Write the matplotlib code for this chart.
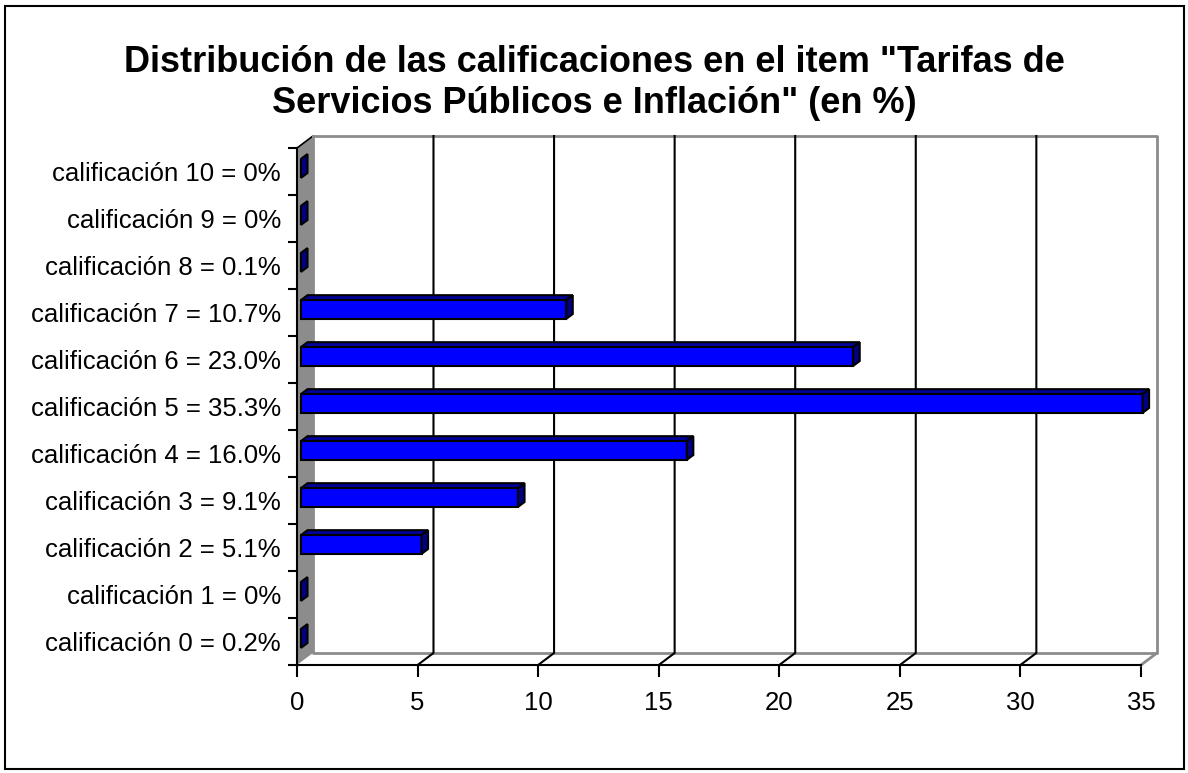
"""
Distribución de calificaciones - barras horizontales estilo 3D.
"""

import matplotlib

matplotlib.use("Agg")

import matplotlib.pyplot as plt
from matplotlib.patches import Polygon, Rectangle

# =====================================================
# Data
# =====================================================

categories = [
    "calificación 0 = 0.2%",
    "calificación 1 = 0%",
    "calificación 2 = 5.1%",
    "calificación 3 = 9.1%",
    "calificación 4 = 16.0%",
    "calificación 5 = 35.3%",
    "calificación 6 = 23.0%",
    "calificación 7 = 10.7%",
    "calificación 8 = 0.1%",
    "calificación 9 = 0%",
    "calificación 10 = 0%",
]

# bar lengths as drawn in the picture
values = [0.0, 0.0, 5.0, 9.0, 16.0, 34.9, 22.9, 11.0, 0.0, 0.0, 0.0]

x_ticks = [0, 5, 10, 15, 20, 25, 30, 35]

title = (
    'Distribución de las calificaciones en el item "Tarifas de\n'
    'Servicios Públicos e Inflación" (en %)'
)

# =====================================================
# Style
# =====================================================

plt.rcParams["font.family"] = ["Liberation Sans", "DejaVu Sans"]

W, H = 1188, 773

FRONT = "#0000FF"
TOP = "#00009C"
SIDE = "#000080"
WALL = "#8C8C8C"
EDGE = "#8C8C8C"

# depth of the 3D box, in data units
DX = 0.66
DY = 0.255

# bar position inside the depth
F0, F1 = 0.25, 0.66
HALF = 0.2

fig = plt.figure(figsize=(W / 100, H / 100), dpi=100)

ax = fig.add_axes(
    [
        297 / W,
        (H - 665) / H,
        (1141 - 297) / W,
        (665 - 148) / H,
    ]
)

n = len(categories)
x_max = x_ticks[-1]
y_lo, y_hi = -0.5, n - 0.5

ax.set_xlim(0, x_max)
ax.set_ylim(y_lo, y_hi)

# =====================================================
# Walls
# =====================================================

ax.add_patch(
    Polygon(
        [
            (0, y_lo),
            (DX, y_lo + DY),
            (DX, y_hi + DY),
            (0, y_hi),
        ],
        closed=True,
        facecolor=WALL,
        edgecolor="none",
        clip_on=False,
        zorder=1,
    )
)

ax.plot(
    [0, DX],
    [y_hi, y_hi + DY],
    color="black",
    lw=1.2,
    clip_on=False,
    zorder=2,
)

ax.plot(
    [DX, x_max + DX, x_max + DX, DX, DX],
    [y_hi + DY, y_hi + DY, y_lo + DY, y_lo + DY, y_hi + DY],
    color=EDGE,
    lw=2,
    clip_on=False,
    zorder=2,
)

ax.plot(
    [x_max, x_max + DX],
    [y_lo, y_lo + DY],
    color=EDGE,
    lw=2,
    clip_on=False,
    zorder=2,
)

# gridlines on floor and back wall
for t in x_ticks[1:-1]:

    ax.plot(
        [t, t + DX, t + DX],
        [y_lo, y_lo + DY, y_hi + DY],
        color="black",
        lw=1.5,
        clip_on=False,
        zorder=3,
    )

# =====================================================
# Bars
# =====================================================

ddx = (F1 - F0) * DX
ddy = (F1 - F0) * DY

for i, v in enumerate(values):

    x0 = F0 * DX
    x1 = v + F0 * DX
    yb = i - HALF + F0 * DY
    yt = i + HALF + F0 * DY

    faces = [
        (
            [(x0, yt), (x1, yt), (x1 + ddx, yt + ddy), (x0 + ddx, yt + ddy)],
            TOP,
        ),
        (
            [(x0, yb), (x1, yb), (x1, yt), (x0, yt)],
            FRONT,
        ),
        (
            [(x1, yb), (x1 + ddx, yb + ddy), (x1 + ddx, yt + ddy), (x1, yt)],
            SIDE,
        ),
    ]

    for pts, color in faces:

        ax.add_patch(
            Polygon(
                pts,
                closed=True,
                facecolor=color,
                edgecolor="black",
                lw=1.5,
                joinstyle="miter",
                clip_on=False,
                zorder=5,
            )
        )

# =====================================================
# Axes
# =====================================================

for side in ["top", "right"]:
    ax.spines[side].set_visible(False)

for side in ["left", "bottom"]:
    ax.spines[side].set_linewidth(1.5)
    ax.spines[side].set_zorder(4)

ax.patch.set_visible(False)

ax.set_xticks(x_ticks)
ax.set_xticklabels([str(t) for t in x_ticks])

ax.set_yticks(range(n))
ax.set_yticklabels(categories)
ax.set_yticks([k - 0.5 for k in range(n + 1)], minor=True)

ax.tick_params(
    axis="x",
    direction="out",
    length=8.5,
    width=1.5,
    pad=10,
    labelsize=18.5,
)

ax.tick_params(
    axis="y",
    which="major",
    length=0,
    pad=11.5,
    labelsize=18.5,
)

ax.tick_params(
    axis="y",
    which="minor",
    direction="out",
    length=6.5,
    width=1.5,
)

# =====================================================
# Title and border
# =====================================================

fig.text(
    594 / W,
    1 - 83 / H,
    title,
    ha="center",
    va="center",
    fontsize=26,
    fontweight="bold",
    linespacing=1.2,
)

fig.patches.append(
    Rectangle(
        (5 / W, 4 / H),
        (1184 - 5) / W,
        (767 - 4) / H,
        transform=fig.transFigure,
        fill=False,
        edgecolor="black",
        lw=1.5,
        zorder=10,
    )
)

fig.savefig("out.png", dpi=100)
